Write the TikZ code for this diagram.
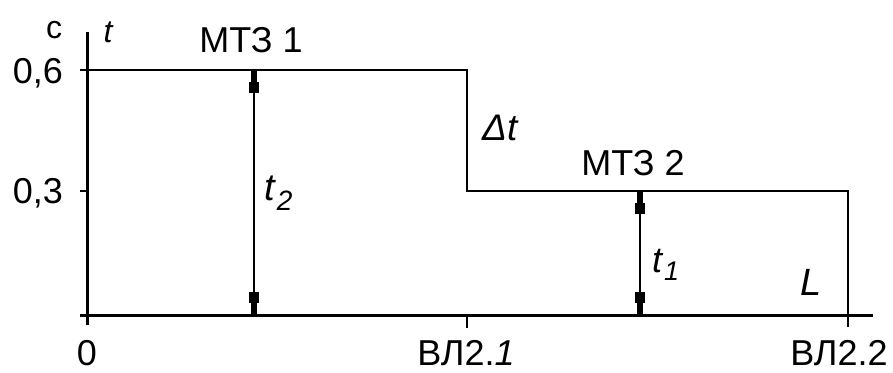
\documentclass[tikz,border=0pt]{standalone}
\usepackage{fontspec}
\setmainfont{Liberation Sans}
\begin{document}
\begin{tikzpicture}[x=1pt,y=-1pt,
  axis/.style={line width=3pt},
  tick/.style={line width=2.6pt},
  curve/.style={line width=1.6pt, line join=miter},
  dimline/.style={line width=1.5pt},
  lbl/.style={inner sep=0pt, font=\fontsize{36}{36}\selectfont},
  small/.style={inner sep=0pt, font=\fontsize{32}{32}\selectfont},
  endmark/.pic={\fill (-2.8,0) rectangle (2.8,13); \fill (-5,12) rectangle (5,23);}
]
\useasboundingbox (0,0) rectangle (893,372);

% key points of the time-distance characteristic
\coordinate (O)  at (87,315);
\coordinate (A0) at (87,70);
\coordinate (A1) at (467,70);
\coordinate (B0) at (467,191);
\coordinate (B1) at (848,191);
\coordinate (L0) at (848,315);
\coordinate (X0) at (467,315);
\coordinate (yTop) at (87,32);
\coordinate (yBot) at (87,325);
\coordinate (xLeft) at (80,315);
\coordinate (xRight) at (873,315);

% axes and ticks
\draw[axis] (yBot) -- (yTop);
\draw[axis] (xLeft) -- (xRight);
\draw[tick] (80,70) -- (A0);
\draw[tick] (80,191) -- (87,191);
\draw[tick] (X0) -- (467,328);
\draw[tick] (L0) -- (848,327);

% stepped characteristic
\draw[curve] (A0) -- (A1) -- (B0) -- (B1) -- (L0);

% time dimensions t2 and t1
\coordinate (d2t) at (254,70);
\coordinate (d2b) at (254,315);
\coordinate (d1t) at (640,191);
\coordinate (d1b) at (640,315);
\draw[dimline] (d2t) -- (d2b);
\draw[dimline] (d1t) -- (d1b);
\pic at (d2t) {endmark};
\pic[yscale=-1] at (d2b) {endmark};
\pic at (d1t) {endmark};
\pic[yscale=-1] at (d1b) {endmark};

% labels
\node[small, anchor=base] (unit) at (54,38) {с};
\node[small, anchor=base] (tax) at (108,42) {\itshape t};
\node[lbl, anchor=base east] (v06) at (63,83) {0,6};
\node[lbl, anchor=base east] (v03) at (63,203) {0,3};
\node[lbl, anchor=base] (mtz1) at (251,52) {МТЗ 1};
\node[lbl, anchor=base] (mtz2) at (633,175) {МТЗ 2};
\node[inner sep=0pt, anchor=base west, font=\fontsize{37}{37}\selectfont\itshape] (dt) at (482,140) {Δt};
\node[inner sep=0pt, anchor=base west, font=\fontsize{38}{38}\selectfont\itshape] (t2) at (264,200)
  {t\kern2pt\raisebox{-10pt}{\fontsize{28}{28}\selectfont 2}};
\node[inner sep=0pt, anchor=base west, font=\fontsize{36}{36}\selectfont\itshape] (t1) at (652,272)
  {t\kern2pt\raisebox{-8pt}{\fontsize{27}{27}\selectfont 1}};
\node[inner sep=0pt, anchor=base, font=\fontsize{38}{38}\selectfont\itshape] (len) at (811,295) {L};
\node[lbl, anchor=base] (x0) at (87,365) {0};
\node[lbl, anchor=base] (x1) at (466,365) {ВЛ2.\textit{1}};
\node[lbl, anchor=base] (x2) at (839,365) {ВЛ2.2};
\end{tikzpicture}
\end{document}
